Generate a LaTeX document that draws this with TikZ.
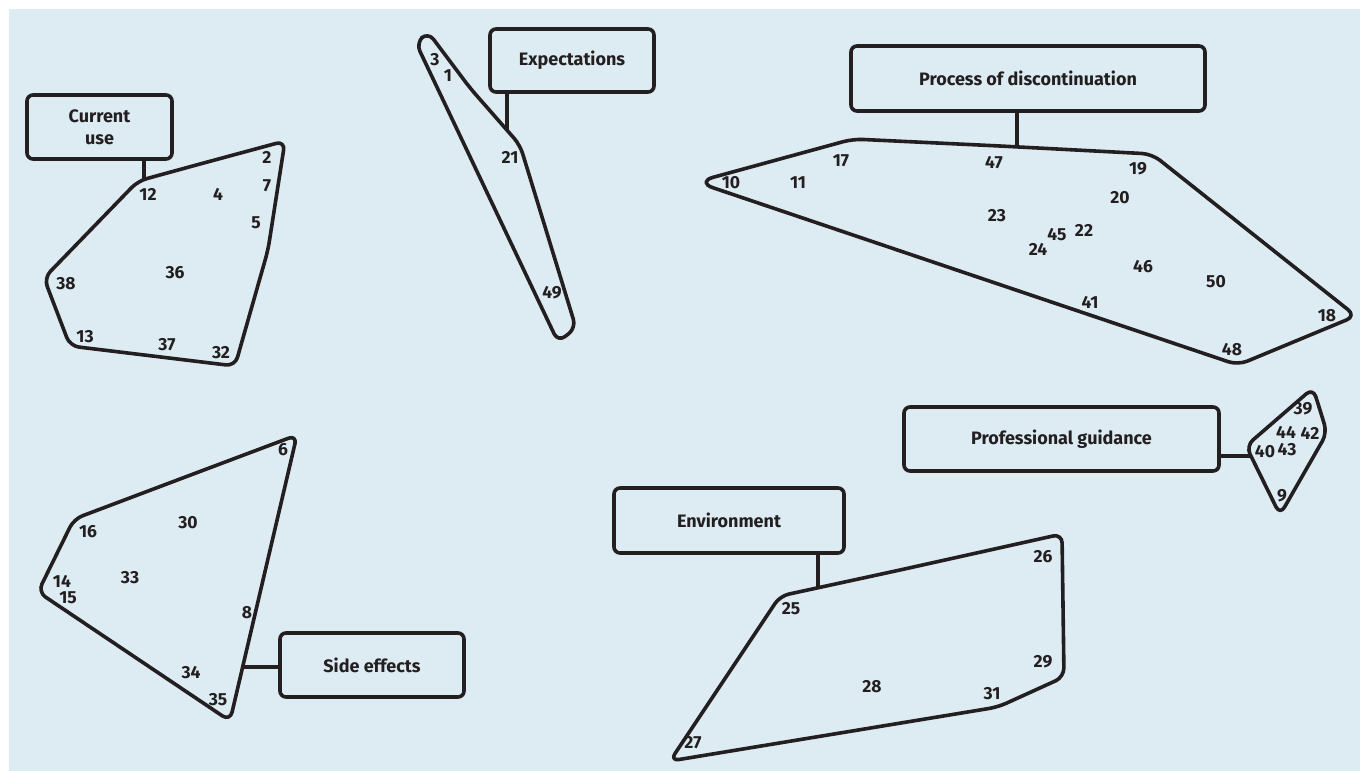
\documentclass[tikz,border=0pt]{standalone}
\usepackage{fontspec}
\setmainfont{Fira Sans}
\definecolor{ink}{HTML}{231F20}
\definecolor{bgblue}{HTML}{DDEBF3}
\begin{document}
\begin{tikzpicture}[x=1pt,y=-1pt,
  box/.style={draw=ink, line width=3.6pt, rounded corners=6pt, align=center, text=ink,
    font=\bfseries\fontsize{18}{22}\selectfont, inner sep=0pt},
  hull/.style={draw=ink, line width=3.6pt, rounded corners=9pt, line join=round},
  link/.style={draw=ink, line width=3.6pt},
  num/.style={text=ink, inner sep=0pt, font=\bfseries\fontsize{17.5}{18}\selectfont}]
\useasboundingbox (0,0) rectangle (1360,771);
\fill[bgblue] (9,9) rectangle (1360,771);

% boxes
\node[box, minimum width=145pt, minimum height=64pt] (cur) at (99.5,127) {Current\\use};
\node[box, minimum width=164pt, minimum height=63pt] (exp) at (572,60.5) {Expectations};
\node[box, minimum width=354pt, minimum height=65pt] (proc) at (1028,78.5) {Process of discontinuation};
\node[box, minimum width=315pt, minimum height=64pt] (prof) at (1061.5,439) {Professional guidance};
\node[box, minimum width=230pt, minimum height=65pt] (env) at (729,520.5) {Environment};
\node[box, minimum width=184pt, minimum height=64pt] (side) at (372,665) {Side effects};

% hulls (each path starts mid-edge so that every corner is rounded)
\draw[hull] (200,164) -- (285,141) -- (268,250) -- (235,366) -- (70,346) -- (44,278) -- (138,181) -- cycle;
\draw[hull] (470,88) -- (520,145) -- (576,328) -- (558,342) -- (416,43) -- (428,32) -- cycle;
\draw[hull, rounded corners=10pt] (1000,146) -- (1152,154) -- (1356,316) -- (1238,365) -- (967,273.5)
  [rounded corners=18pt] -- (696,182) -- (774.5,160.5) [rounded corners=10pt] -- (853,139) -- cycle;
\draw[hull] (1320,410) -- (1327,433) -- (1280,515) -- (1246,446) -- (1313,388) -- cycle;
\draw[hull] (180,479) -- (74,519) -- (38,592) -- (230,721) -- (297,435) -- cycle;
\draw[hull] (900,570) -- (1062,534) -- (1064,677) -- (998,707) -- (670,761) -- (780,596) -- cycle;

% connector ends
\coordinate (curJ) at (144,179);
\coordinate (expJ) at (507,130);
\coordinate (procJ) at (1017,147);
\coordinate (profJ) at (1250,456);
\coordinate (envJ) at (818,588);
\coordinate (sideJ) at (244,667);
\draw[link] (cur.south -| curJ) -- (curJ);
\draw[link] (exp.south -| expJ) -- (expJ);
\draw[link] (proc.south -| procJ) -- (procJ);
\draw[link] (prof.east |- profJ) -- (profJ);
\draw[link] (env.south -| envJ) -- (envJ);
\draw[link] (side.west |- sideJ) -- (sideJ);

% numbers: current use
\node[num] (n2) at (267,157) {2};
\node[num] (n7) at (267,186) {7};
\node[num] (n5) at (256,223) {5};
\node[num] (n4) at (218,194) {4};
\node[num] (n12) at (148,194) {12};
\node[num] (n36) at (175,273) {36};
\node[num] (n38) at (66,284) {38};
\node[num] (n13) at (85,337) {13};
\node[num] (n37) at (167,345) {37};
\node[num] (n32) at (221,353) {32};
% expectations
\node[num] (n3) at (435,60) {3};
\node[num] (n1) at (448,76) {1};
\node[num] (n21) at (510,157) {21};
\node[num] (n49) at (552,293) {49};
% process
\node[num] (n10) at (731,183) {10};
\node[num] (n11) at (798,183) {11};
\node[num] (n17) at (841,161) {17};
\node[num] (n47) at (994,163) {47};
\node[num] (n19) at (1138,169) {19};
\node[num] (n20) at (1120,198) {20};
\node[num] (n23) at (997,216) {23};
\node[num] (n24) at (1038,249) {24};
\node[num] (n45) at (1057,235) {45};
\node[num] (n22) at (1084,230) {22};
\node[num] (n46) at (1143,267) {46};
\node[num] (n50) at (1216,282) {50};
\node[num] (n41) at (1090,302) {41};
\node[num] (n18) at (1327,316) {18};
\node[num] (n48) at (1232,350) {48};
% professional guidance
\node[num] (n39) at (1303,409) {39};
\node[num] (n44) at (1286,432) {44};
\node[num] (n42) at (1310,433) {42};
\node[num] (n40) at (1265,452) {40};
\node[num] (n43) at (1287,450) {43};
\node[num] (n9) at (1282,496) {9};
% side effects
\node[num] (n6) at (283,450) {6};
\node[num] (n16) at (88,532) {16};
\node[num] (n30) at (188,523) {30};
\node[num] (n14) at (62,581) {14};
\node[num] (n15) at (68,598) {15};
\node[num] (n33) at (130,578) {33};
\node[num] (n8) at (247,613) {8};
\node[num] (n34) at (191,673) {34};
\node[num] (n35) at (218,700) {35};
% environment
\node[num] (n25) at (791,609) {25};
\node[num] (n26) at (1043,557) {26};
\node[num] (n29) at (1043,662) {29};
\node[num] (n31) at (992,694) {31};
\node[num] (n28) at (872,687) {28};
\node[num] (n27) at (693,743) {27};
\end{tikzpicture}
\end{document}
